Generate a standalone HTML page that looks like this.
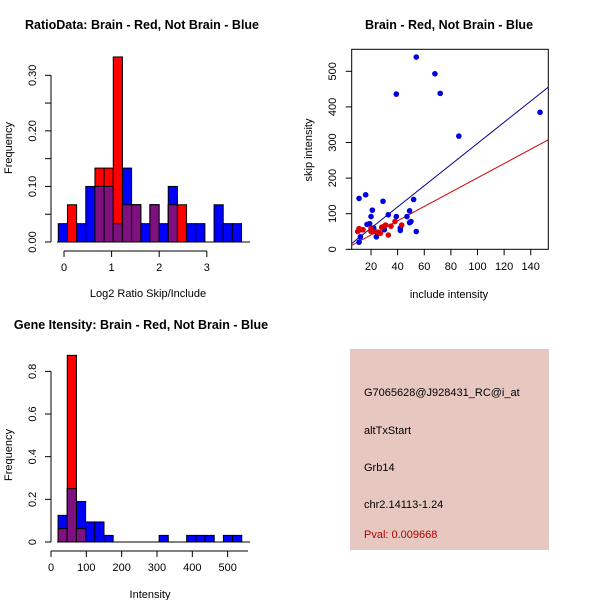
<!DOCTYPE html>
<html><head><meta charset="utf-8"><style>
body{margin:0;background:#fff;}
svg{display:block;font-family:"Liberation Sans",Arial,sans-serif;}
</style></head><body>
<svg id="c" width="600" height="600" viewBox="0 0 600 600">
<rect width="600" height="600" fill="#fff"/>
<text x="142" y="29" font-size="12.5" font-weight="bold" text-anchor="middle">RatioData: Brain - Red, Not Brain - Blue</text>
<text x="449" y="29" font-size="12.5" font-weight="bold" text-anchor="middle">Brain - Red, Not Brain - Blue</text>
<text x="141" y="329" font-size="12.5" font-weight="bold" text-anchor="middle">Gene Itensity: Brain - Red, Not Brain - Blue</text>
<g id="g1"></g>
<g id="g2"></g>
<g id="g3"></g>
<g>
<rect x="350" y="349" width="199" height="201" fill="#e6c8c0"/>
<text x="364" y="396" font-size="11">G7065628@J928431_RC@i_at</text>
<text x="364" y="434" font-size="11">altTxStart</text>
<text x="364" y="471" font-size="11">Grb14</text>
<text x="364" y="508" font-size="11">chr2.14113-1.24</text>
<text x="364" y="538" font-size="11" fill="#b00000">Pval: 0.009668</text>
</g>
</svg>
<script>
// Ratio histogram data
const ratioBinStart = -0.12, ratioBinWidth = 0.1925;
const ratioBlue = [0.033,0,0.033,0.1,0.1,0.1,0.033,0.133,0.067,0.033,0.067,0.033,0.1,0,0.033,0.033,0,0.067,0.033,0.033];
const ratioRed  = [0,0.067,0,0,0.133,0.133,0.333,0.067,0.067,0,0.067,0,0.067,0.067,0,0,0,0,0,0];
const ratioXTicks = [0,1,2,3];
const ratioYTicks = [0,0.05,0.1,0.15,0.2,0.25,0.3];
const ratioYLabels = ["0.00","","0.10","","0.20","","0.30"];
// Scatter data
const blueX = [11,12,11,16,17,19,20,21,22,22,24,29,30,33,39,39,42,42,47,49,49,50,52,54,54,68,72,86,147,25];
const blueY = [20,35,143,153,70,72,92,110,60,55,35,135,55,97,436,92,60,53,92,75,108,78,140,50,540,493,438,318,385,45];
const redX = [10,11,14,20,22,25,27,28,30,31,33,35,38,43,12,20];
const redY = [50,58,55,50,50,48,45,62,65,68,40,65,78,68,55,58];
const blueFit = [0.1,2.973];
const redFit = [0,2.007];
const scXTicks = [20,40,60,80,100,120,140];
const scYTicks = [0,100,200,300,400,500];
// Intensity histogram data
const intBinStart = 20, intBinWidth = 26;
const intBlue = [0.125,0.25,0.19,0.094,0.094,0.031,0,0,0,0,0,0.031,0,0,0.031,0.031,0.031,0,0.031,0.031];
const intRed  = [0.0625,0.875,0.0625,0,0,0,0,0,0,0,0,0,0,0,0,0,0,0,0,0];
const intXTicks = [0,100,200,300,400,500];
const intYTicks = [0,0.2,0.4,0.6,0.8];

const NS="http://www.w3.org/2000/svg";
function mk(p,t,a){const e=document.createElementNS(NS,t);for(const k in a)e.setAttribute(k,a[k]);p.appendChild(e);return e;}

function hist(g,blue,red,start,w,sx,sy){
  blue.forEach((v,i)=>{const x0=sx(start+i*w),x1=sx(start+(i+1)*w);
    if(v>0){const r=mk(g,'rect',{x:x0,y:sy(v),width:x1-x0,height:sy(0)-sy(v),fill:'#0000ff',stroke:'#000','stroke-width':1});
    
    }});
  red.forEach((v,i)=>{const x0=sx(start+i*w),x1=sx(start+(i+1)*w);
    if(v>0){const r=mk(g,'rect',{x:x0,y:sy(v),width:x1-x0,height:sy(0)-sy(v),fill:'#ff0000',stroke:'#000','stroke-width':1});
    
    }
    const m=Math.min(v,blue[i]);
    if(m>0){const p=mk(g,'rect',{x:x0,y:sy(m),width:x1-x0,height:sy(0)-sy(m),fill:'#7f107f',stroke:'#000','stroke-width':1});
    
    }});
}
function yaxis(g,x,ticks,labels,sy,lx){
  mk(g,'line',{x1:x,x2:x,y1:sy(ticks[0]),y2:sy(ticks[ticks.length-1]),stroke:'#000'});
  ticks.forEach((t,i)=>{mk(g,'line',{x1:x-6,x2:x,y1:sy(t),y2:sy(t),stroke:'#000'});
    if(labels[i]){const tx=mk(g,'text',{x:lx,y:sy(t),'font-size':11,'text-anchor':'middle',transform:`rotate(-90 ${lx} ${sy(t)})`});tx.textContent=labels[i];
    
    }});
}
function xaxis(g,y,ticks,sx,x2){
  mk(g,'line',{x1:sx(ticks[0]),x2:x2!==undefined?x2:sx(ticks[ticks.length-1]),y1:y,y2:y,stroke:'#000'});
  ticks.forEach(t=>{mk(g,'line',{x1:sx(t),x2:sx(t),y1:y,y2:y+6,stroke:'#000'});
    const tx=mk(g,'text',{x:sx(t),y:y+20,'font-size':11,'text-anchor':'middle'});tx.textContent=t;
    
    });
}
function label(g,x,y,s,rot,name){const t=mk(g,'text',{x:x,y:y,'font-size':11,'text-anchor':'middle'});
  if(rot)t.setAttribute('transform',`rotate(-90 ${x} ${y})`);t.textContent=s;
  
  }

// Plot 1
const g1=document.getElementById('g1');
const sx1=v=>64+v*47.6, sy1=v=>242-v*555.7;
hist(g1,ratioBlue,ratioRed,ratioBinStart,ratioBinWidth,sx1,sy1);
mk(g1,'line',{x1:57,x2:250,y1:242,y2:242,stroke:'#000'});
yaxis(g1,51,ratioYTicks,ratioYLabels,sy1,36);
xaxis(g1,251,ratioXTicks,sx1);
label(g1,148,297,'Log2 Ratio Skip/Include',false,'ratio-x-label');
label(g1,12,148,'Frequency',true,'ratio-y-label');

// Plot 2
const g2=document.getElementById('g2');
const sx2=v=>344.4+v*1.331, sy2=v=>249.3-v*0.356;
mk(g2,'rect',{x:351.7,y:49.3,width:196.6,height:200,fill:'none',stroke:'#000'});
const cp=mk(g2,'clipPath',{id:'cp'});mk(cp,'rect',{x:351.7,y:49.3,width:196.6,height:200});
[[blueFit,'#00008b','blue-fit-line'],[redFit,'#cc0000','red-fit-line']].forEach(([f,c,n])=>{
  const x0=0,x1=160;const l=mk(g2,'line',{x1:sx2(x0),y1:sy2(f[0]+f[1]*x0),x2:sx2(x1),y2:sy2(f[0]+f[1]*x1),stroke:c,'clip-path':'url(#cp)'});
  
  });
blueX.forEach((x,i)=>{const c=mk(g2,'circle',{cx:sx2(x),cy:sy2(blueY[i]),r:2.8,fill:'#0000dd'});
  
  });
redX.forEach((x,i)=>{const c=mk(g2,'circle',{cx:sx2(x),cy:sy2(redY[i]),r:2.8,fill:'#dd0000'});
  
  });
scYTicks.forEach(t=>{mk(g2,'line',{x1:345.7,x2:351.7,y1:sy2(t),y2:sy2(t),stroke:'#000'});
  const lx=336,tx=mk(g2,'text',{x:lx,y:sy2(t),'font-size':11,'text-anchor':'middle',transform:`rotate(-90 ${lx} ${sy2(t)})`});tx.textContent=t;
  
  });
scXTicks.forEach(t=>{mk(g2,'line',{x1:sx2(t),x2:sx2(t),y1:249.3,y2:255.3,stroke:'#000'});
  const tx=mk(g2,'text',{x:sx2(t),y:270,'font-size':11,'text-anchor':'middle'});tx.textContent=t;
  
  });
label(g2,449,298,'include intensity',false,'scatter-x-label');
label(g2,312,150,'skip intensity',true,'scatter-y-label');

// Plot 3
const g3=document.getElementById('g3');
const sx3=v=>51+v*0.3533, sy3=v=>542-v*213.3;
hist(g3,intBlue,intRed,intBinStart,intBinWidth,sx3,sy3);
mk(g3,'line',{x1:57,x2:250,y1:542,y2:542,stroke:'#000'});
yaxis(g3,51,intYTicks,intYTicks.map(String),sy3,36);
xaxis(g3,551,intXTicks,sx3,248);
label(g3,150,598,'Intensity',false,'intensity-x-label');
label(g3,12,455,'Frequency',true,'intensity-y-label');
</script>
</body></html>
